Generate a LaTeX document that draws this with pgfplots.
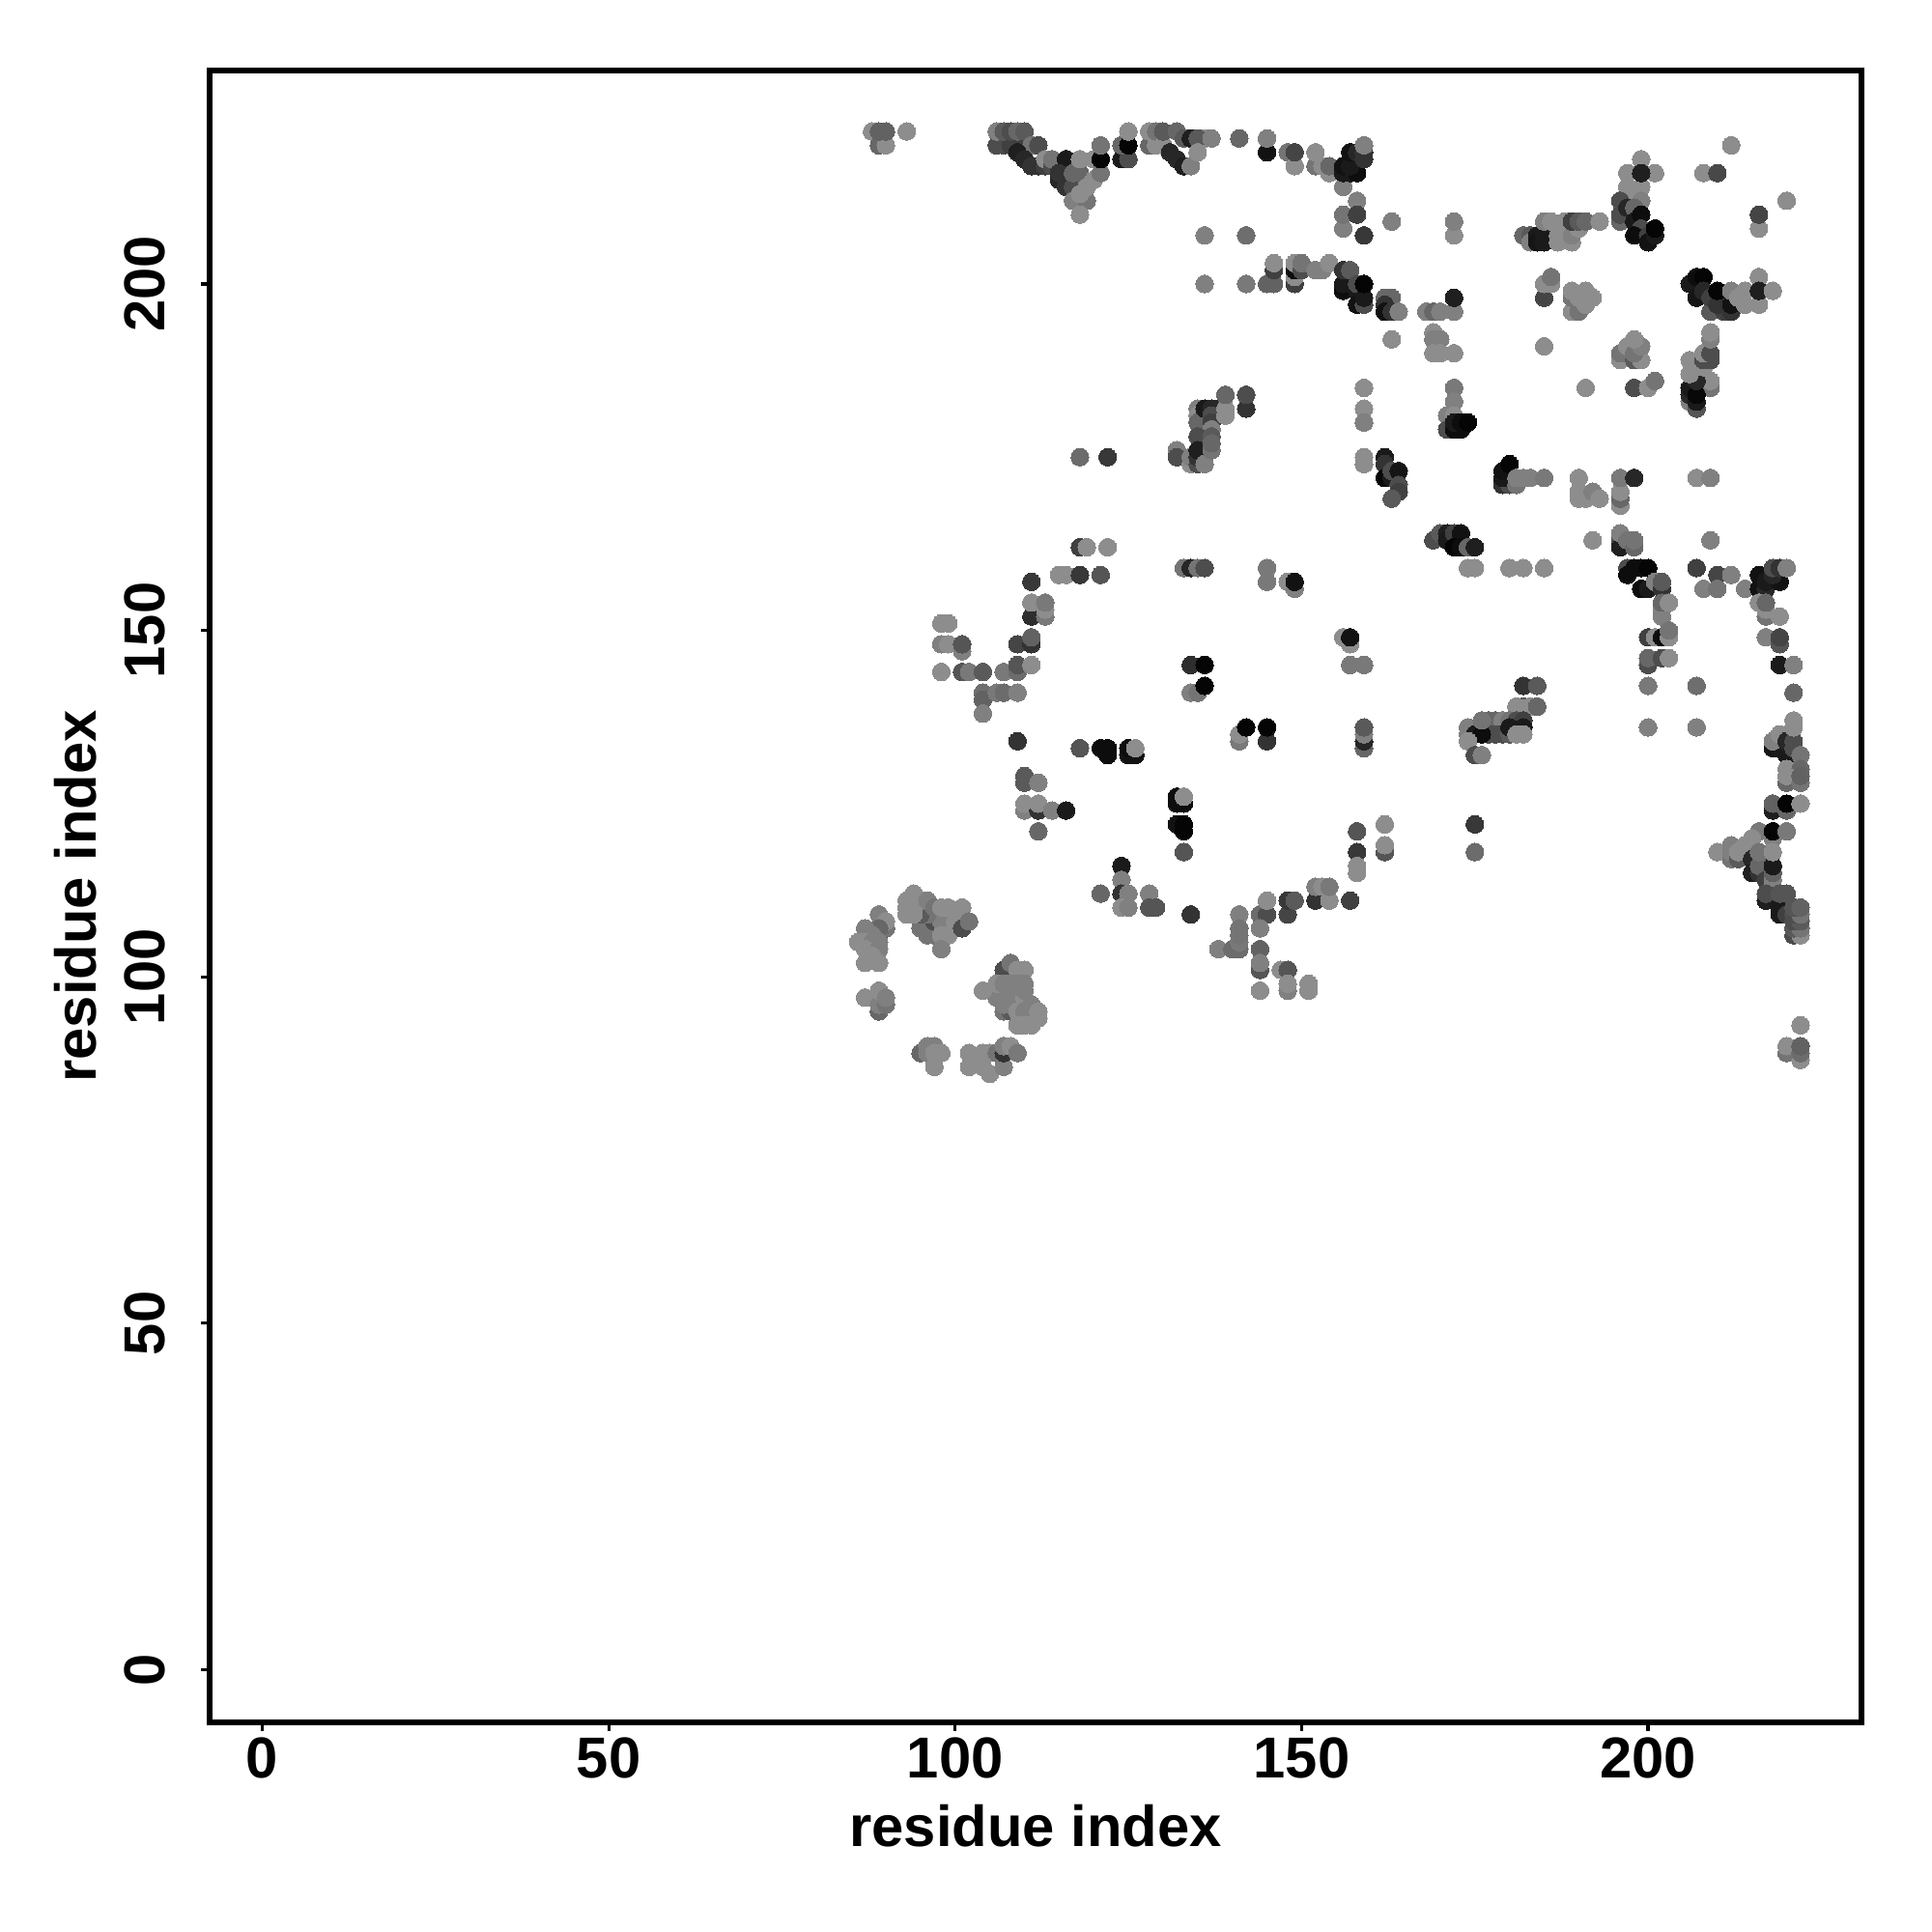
\documentclass[border=0pt]{standalone}
\usepackage{pgfplots}
\usepackage{fontspec}
\setmainfont{Liberation Sans}
\pgfplotsset{compat=1.18}
\pgfplotstableread{
x y g
88 222 .55
89 220 .4
90 220 .55
89 222 .38
90 222 .38
93 222 .55
106 220 .3
107 220 .3
108 220 .25
109 220 .25
106 222 .5
107 222 .35
108 222 .3
109 222 .4
110 222 .35
111 220 .45
112 220 .3
109 219 .12
110 218 .15
111 217 .2
112 217 .2
113 217 .25
113 218 .55
114 217 .3
114 218 .45
115 215 .15
116 214 .2
116 218 .1
115 216 .2
117 214 .3
117 216 .4
118 216 .4
117 212 .5
119 212 .45
118 213 .55
119 214 .55
118 218 .55
118 210 .55
120 215 .55
120 218 .55
121 216 .45
121 218 .02
121 220 .45
124 218 .1
125 218 .3
124 220 .4
125 220 .02
125 222 .55
128 220 .4
129 220 .55
128 222 .55
129 222 .45
130 220 .55
130 222 .35
132 222 .4
131 219 .15
132 218 .15
133 217 .12
134 217 .5
133 221 .35
136 221 .55
134 221 .12
135 221 .35
137 221 .5
135 219 .55
141 221 .4
145 219 .07
145 221 .5
148 219 .45
149 217 .55
149 219 .27
152 217 .45
152 219 .55
153 217 .55
154 216 .55
154 217 .4
156 214 .5
156 216 .1
157 216 .1
158 216 .05
156 217 .07
157 217 .1
157 219 .07
158 219 .15
159 218 .2
159 219 .2
159 220 .5
158 212 .5
156 208 .5
156 210 .45
158 210 .25
159 207 .22
163 209 .5
172 207 .55
172 209 .5
136 207 .5
142 207 .43
136 200 .5
142 200 .47
145 200 .38
146 200 .38
146 202 .25
146 203 .55
149 200 .25
149 201 .55
149 202 .05
149 203 .55
150 202 .3
150 203 .45
152 202 .5
153 202 .5
154 203 .55
156 199 .05
156 200 .1
156 202 .2
157 202 .35
158 199 .1
158 197 .07
159 197 .3
158 200 .3
159 198 .1
159 200 .02
162 198 .4
163 198 .4
162 197 .2
162 196 .07
163 196 .2
164 196 .5
168 196 .5
169 196 .4
170 196 .5
172 196 .5
172 198 .12
163 192 .55
169 193 .55
169 192 .5
170 192 .5
169 190 .55
170 190 .55
172 190 .55
159 185 .55
159 182 .55
159 180 .5
172 185 .47
172 183 .5
171 181 .5
172 181 .55
171 179 .3
172 179 .05
173 179 .05
172 180 .1
173 180 .05
174 180 .02
135 182 .5
135 181 .55
135 180 .4
136 182 .1
137 182 .15
138 182 .15
137 181 .3
137 180 .25
137 179 .5
135 178 .3
137 178 .35
139 181 .55
139 182 .55
139 184 .4
142 182 .2
142 184 .3
212 220 .55
208 216 .55
210 216 .28
220 212 .55
216 208 .55
216 210 .27
197 213 .55
198 213 .55
197 214 .55
199 214 .55
197 216 .55
201 216 .55
199 218 .55
199 216 .12
199 212 .5
196 209 .4
196 210 .3
196 212 .3
197 211 .15
198 211 .4
198 209 .1
199 210 .05
199 208 .3
198 207 .05
200 207 .25
200 206 .07
201 207 .1
201 208 .02
182 207 .4
183 207 .35
183 206 .5
184 207 .1
184 206 .08
185 206 .1
185 207 .1
185 209 .5
186 209 .55
187 206 .55
187 207 .55
188 207 .55
188 209 .55
189 206 .55
189 207 .5
190 208 .55
189 209 .25
190 209 .35
191 209 .4
193 209 .55
185 198 .27
185 200 .55
186 200 .55
186 201 .45
189 196 .55
190 196 .45
189 198 .45
190 198 .55
189 199 .55
191 197 .55
191 199 .55
192 198 .55
185 191 .55
196 189 .55
196 190 .45
197 191 .55
198 189 .35
199 189 .55
198 190 .45
199 191 .5
198 192 .55
191 185 .55
198 185 .3
200 185 .55
201 186 .45
209 185 .45
209 186 .55
206 183 .5
207 182 .33
206 184 .15
207 183 .1
206 185 .1
207 184 .03
207 186 .15
206 187 .55
208 188 .55
206 189 .55
208 189 .3
209 189 .3
208 190 .55
209 190 .3
209 192 .5
209 193 .55
206 200 .1
207 201 .05
208 201 .02
207 198 .08
208 199 .15
209 196 .35
209 198 .25
211 196 .25
210 197 .2
210 199 .02
212 196 .2
212 197 .07
212 199 .5
213 198 .55
214 197 .55
214 199 .55
216 197 .55
216 201 .55
216 199 .12
218 199 .55
179 171 .2
180 171 .3
179 172 .1
179 173 .07
180 174 .02
181 171 .45
181 172 .5
182 172 .5
183 172 .5
185 172 .47
190 172 .55
190 170 .55
190 169 .55
191 169 .55
192 170 .5
193 169 .55
196 168 .55
196 169 .4
196 170 .55
196 172 .47
198 172 .15
207 172 .55
209 172 .5
192 163 .55
209 163 .5
196 163 .3
196 162 .12
196 164 .5
197 163 .45
198 162 .4
198 163 .45
180 159 .55
182 159 .55
185 159 .55
197 159 .3
197 158 .05
198 159 .05
199 159 .05
200 159 .02
199 156 .05
200 156 .1
201 157 .5
202 156 .2
202 157 .35
202 152 .5
202 153 .5
202 154 .4
203 154 .55
200 149 .25
201 149 .55
202 149 .05
203 149 .55
203 150 .45
200 145 .3
200 146 .4
202 146 .3
203 146 .55
200 142 .47
200 136 .5
207 142 .43
207 136 .5
207 159 .25
210 158 .27
212 158 .5
208 156 .5
210 156 .45
214 156 .5
216 156 .07
216 158 .07
217 156 .15
217 157 .1
219 157 .07
218 158 .15
218 159 .3
219 159 .2
220 159 .5
216 154 .55
217 152 .45
217 153 .55
217 154 .4
219 152 .55
217 149 .5
219 148 .33
219 149 .27
219 145 .1
221 145 .5
221 141 .4
218 133 .08
219 133 .1
218 134 .5
219 135 .55
220 132 .1
220 134 .15
221 133 .3
221 134 .3
221 136 .55
221 137 .55
222 132 .45
220 130 .55
222 130 .4
182 142 .2
184 142 .35
182 139 .35
183 139 .55
184 139 .4
181 139 .55
181 138 .55
177 137 .4
178 137 .4
179 137 .5
180 137 .45
181 137 .3
182 137 .25
177 135 .3
178 135 .3
179 135 .3
180 135 .35
180 136 .1
182 136 .1
181 135 .55
182 135 .55
176 132 .55
132 176 .5
132 175 .3
134 174 .55
134 175 .5
135 174 .3
135 175 .2
135 176 .12
136 174 .5
137 176 .45
137 177 .4
133 159 .45
134 159 .15
135 159 .45
136 159 .3
145 159 .47
145 157 .47
148 157 .55
149 156 .5
149 157 .07
159 175 .55
159 174 .55
162 175 .1
162 174 .2
162 172 .03
163 172 .1
163 173 .3
164 173 .08
164 171 .3
164 170 .25
163 169 .35
169 163 .3
170 164 .35
171 164 .12
171 163 .1
172 164 .25
173 164 .07
172 162 .02
173 162 .05
174 162 .4
175 162 .12
174 159 .55
175 159 .55
156 149 .55
157 148 .55
157 149 .07
157 145 .47
159 145 .47
134 145 .18
136 145 .02
134 141 .5
135 141 .45
136 142 .02
141 134 .47
141 135 .55
142 136 .02
145 134 .2
145 136 .02
159 133 .4
159 134 .15
159 135 .5
159 136 .35
174 136 .5
174 135 .5
175 135 .1
176 135 .05
176 137 .45
174 134 .55
175 132 .3
176 132 .5
132 125 .05
133 125 .05
132 126 .05
133 126 .55
132 122 .07
133 121 .02
133 122 .02
133 118 .33
158 121 .33
162 122 .55
162 118 .33
162 119 .55
158 118 .22
158 115 .55
158 116 .55
175 122 .22
175 118 .42
129 110 .35
134 109 .2
141 109 .5
144 109 .42
145 109 .3
145 111 .55
148 109 .27
148 111 .22
149 111 .35
152 111 .2
152 113 .5
153 113 .55
154 111 .55
154 113 .47
157 111 .25
138 104 .5
140 104 .42
141 104 .42
141 105 .47
141 106 .45
141 107 .45
144 107 .5
144 104 .38
144 101 .33
144 102 .5
144 98 .55
147 101 .55
148 101 .33
148 98 .5
148 99 .55
151 98 .55
151 99 .55
110 129 .35
110 128 .35
112 128 .5
110 124 .5
110 125 .55
112 124 .2
112 125 .55
114 124 .5
116 124 .1
112 121 .4
124 116 .1
124 114 .5
124 112 .2
125 112 .5
121 112 .4
124 110 .55
125 110 .5
128 112 .5
128 110 .33
129 110 .33
118 175 .42
122 175 .22
118 162 .25
119 162 .55
122 162 .55
115 158 .55
116 158 .55
118 158 .22
121 158 .33
111 157 .22
111 152 .18
111 154 .55
113 152 .47
113 153 .55
113 154 .47
98 151 .55
99 151 .55
98 148 .5
99 148 .55
101 147 .5
101 148 .33
109 148 .27
111 148 .2
111 149 .38
98 144 .55
101 144 .33
102 144 .47
104 144 .35
107 144 .47
109 144 .42
109 145 .33
111 145 .55
104 141 .43
104 140 .38
106 141 .47
107 141 .42
109 141 .5
104 138 .5
109 134 .2
118 133 .33
121 133 .05
122 133 .05
122 132 .05
125 132 .07
126 132 .07
125 133 .05
126 133 .55
89 106 .2
89 109 .5
90 107 .45
90 108 .55
89 107 .4
87 107 .5
87 106 .5
88 106 .5
86 105 .55
87 105 .55
88 105 .5
89 105 .5
87 104 .55
89 104 .5
88 103 .55
87 102 .55
89 102 .55
95 108 .45
96 108 .5
95 107 .45
96 106 .45
97 106 .45
97 108 .3
98 108 .5
99 108 .5
96 109 .45
95 109 .35
93 109 .55
94 109 .55
93 110 .55
94 110 .55
93 111 .55
94 112 .55
95 111 .55
96 111 .5
97 110 .45
98 110 .55
99 110 .55
98 106 .55
99 106 .55
100 107 .55
100 108 .55
98 104 .5
101 107 .3
101 110 .55
102 108 .45
107 101 .3
108 102 .45
109 101 .55
110 101 .55
107 95 .45
108 95 .35
107 96 .5
106 97 .5
107 97 .5
108 97 .5
106 98 .5
107 98 .5
108 98 .5
106 99 .55
107 99 .5
108 99 .5
109 99 .5
104 98 .55
110 97 .55
110 98 .5
110 99 .5
109 95 .55
110 95 .5
111 96 .5
112 94 .55
112 95 .55
109 93 .55
110 93 .55
111 93 .55
87 97 .55
89 95 .4
89 96 .5
89 98 .55
90 96 .45
90 97 .5
95 89 .4
96 89 .5
96 90 .5
97 90 .5
97 89 .55
98 89 .55
97 87 .55
102 87 .55
102 89 .55
103 88 .55
104 87 .55
104 89 .55
105 86 .55
105 89 .55
106 89 .45
107 87 .5
107 89 .2
107 90 .5
108 90 .55
109 89 .47
220 128 .4
220 129 .55
222 128 .45
222 129 .38
218 124 .12
218 125 .38
220 124 .4
220 125 .02
222 125 .55
216 121 .47
215 120 .55
218 120 .5
218 121 .02
220 121 .47
210 118 .55
212 117 .45
212 118 .5
212 119 .5
213 117 .35
213 118 .55
214 119 .55
215 117 .15
215 115 .12
216 115 .2
216 116 .4
216 118 .45
217 114 .25
218 113 .55
218 114 .5
218 115 .38
218 116 .1
218 118 .55
217 111 .12
217 112 .3
219 109 .1
219 110 .1
219 112 .33
220 109 .25
220 112 .33
221 106 .3
222 106 .55
221 107 .35
222 107 .45
221 108 .3
222 108 .35
221 109 .3
222 109 .45
221 110 .33
222 110 .38
222 93 .55
220 89 .45
220 90 .55
222 88 .55
222 89 .42
222 90 .38
}\pts
\begin{document}
\begin{tikzpicture}
\useasboundingbox (0,0) rectangle (20cm,20cm);
\begin{axis}[
  at={(2.17cm,2.17cm)}, anchor=south west,
  scale only axis, width=17.1cm, height=17.1cm,
  xmin=-7.6, xmax=230.8, ymin=-7.6, ymax=230.8,
  xtick={0,50,100,150,200}, ytick={0,50,100,150,200},
  tick align=outside, major tick length=0.9mm,
  axis line style={line width=0.55mm}, tick style={line width=0.33mm,black},
  xtick pos=bottom, ytick pos=left,
  /pgf/number format/assume math mode=true,
  tick label style={font=\fontsize{17}{20}\selectfont\bfseries},
  xticklabel style={anchor=base, yshift=-4.9mm},
  yticklabel style={rotate=90, anchor=base, yshift=3.7mm},
  xlabel={residue index}, ylabel={residue index},
  label style={font=\fontsize{17}{20}\selectfont\bfseries},
  xlabel style={at={(axis description cs:0.5,0)}, anchor=base, yshift=-12.9mm},
  ylabel style={at={(axis description cs:0,0.5)}, anchor=base, yshift=11.75mm},
  colormap={bw}{gray(0cm)=(0); gray(1cm)=(1)},
  point meta min=0, point meta max=1,
  clip=false,
]
\addplot[only marks, scatter, mark=*, mark size=2.6pt, point meta=explicit,
  scatter/use mapped color={fill=mapped color, draw=mapped color},
  mark options={line width=0pt}]
  table[x=x, y=y, meta=g] {\pts};
\end{axis}
\end{tikzpicture}
\end{document}
